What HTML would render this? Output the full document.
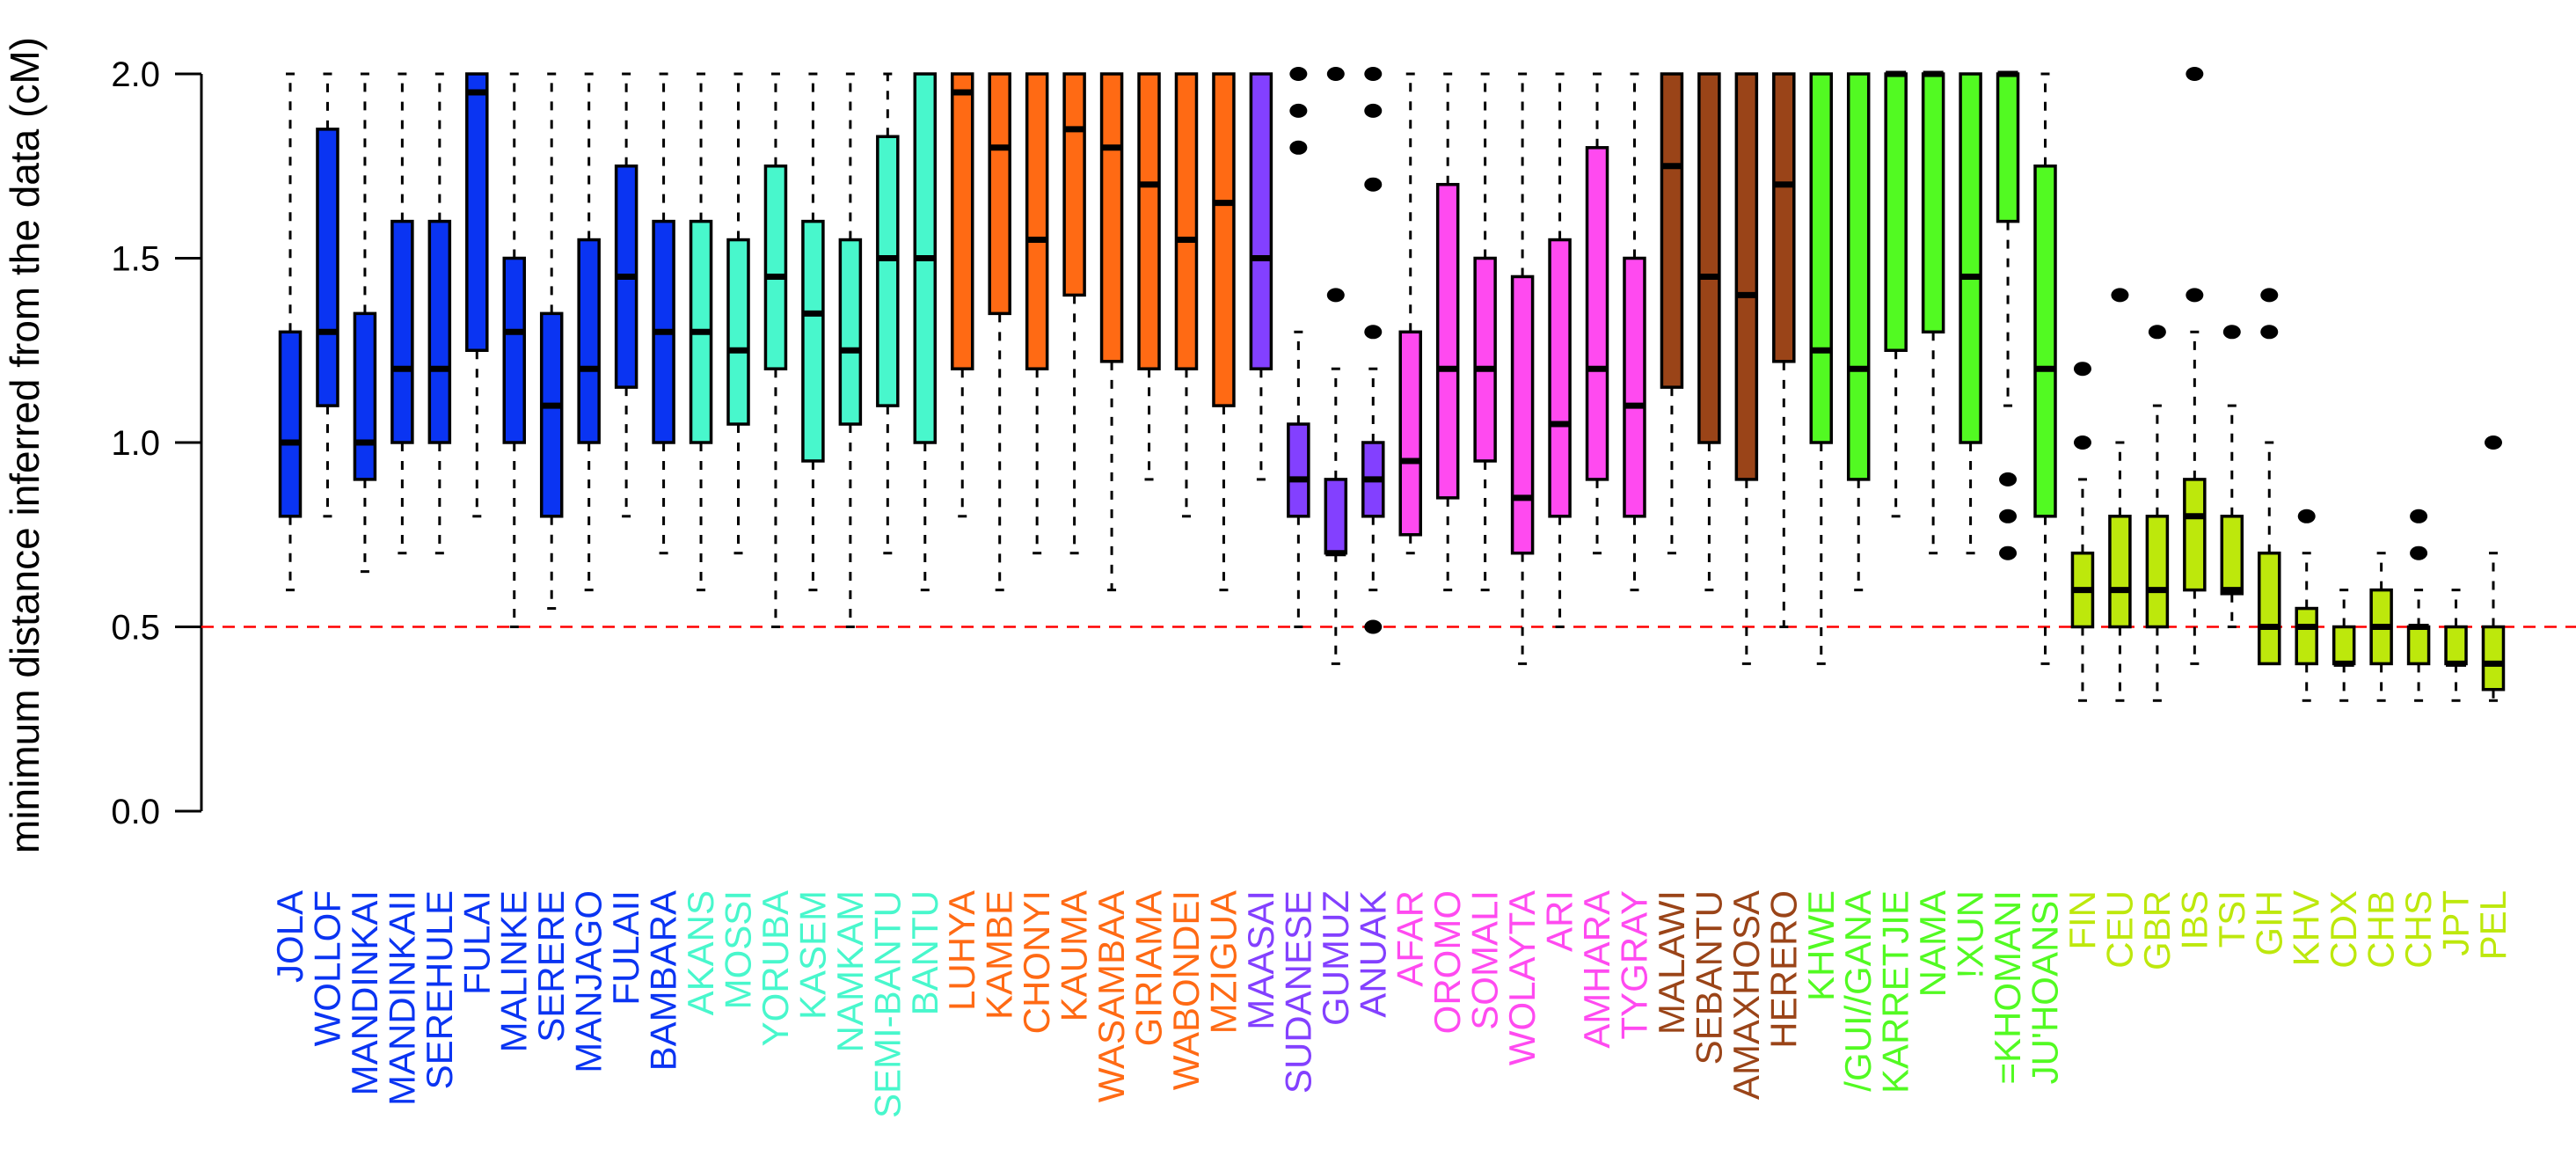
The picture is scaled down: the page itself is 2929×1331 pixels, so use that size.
<!DOCTYPE html>
<html><head><meta charset="utf-8"><style>
html,body{margin:0;padding:0;background:#fff;}
svg{display:block;font-family:"Liberation Sans",Arial,sans-serif;}
</style></head>
<body>
<svg id="chart" width="2929" height="1331" viewBox="0 0 2929 1331" xmlns="http://www.w3.org/2000/svg">
<text transform="translate(44,506) rotate(-90)" text-anchor="middle" font-size="46" fill="#000">minimum distance inferred from the data (cM)</text>
</svg>
<script>
const categories=["JOLA","WOLLOF","MANDINKAI","MANDINKAII","SEREHULE","FULAI","MALINKE","SERERE","MANJAGO","FULAII","BAMBARA","AKANS","MOSSI","YORUBA","KASEM","NAMKAM","SEMI-BANTU","BANTU","LUHYA","KAMBE","CHONYI","KAUMA","WASAMBAA","GIRIAMA","WABONDEI","MZIGUA","MAASAI","SUDANESE","GUMUZ","ANUAK","AFAR","OROMO","SOMALI","WOLAYTA","ARI","AMHARA","TYGRAY","MALAWI","SEBANTU","AMAXHOSA","HERERO","KHWE","/GUI//GANA","KARRETJIE","NAMA","!XUN","=KHOMANI","JU'HOANSI","FIN","CEU","GBR","IBS","TSI","GIH","KHV","CDX","CHB","CHS","JPT","PEL"];
const groups=[0,0,0,0,0,0,0,0,0,0,0,1,1,1,1,1,1,1,2,2,2,2,2,2,2,2,3,3,3,3,4,4,4,4,4,4,4,5,5,5,5,6,6,6,6,6,6,6,7,7,7,7,7,7,7,7,7,7,7,7];
const groupColors=["#0a34f2","#48f7cc","#ff6a14","#8340ff","#ff4af0","#9a4418","#52fa22","#bde80c"];
const whiskerLow=[0.6,0.8,0.65,0.7,0.7,0.8,0.5,0.55,0.6,0.8,0.7,0.6,0.7,0.5,0.6,0.5,0.7,0.6,0.8,0.6,0.7,0.7,0.6,0.9,0.8,0.6,0.9,0.5,0.4,0.6,0.7,0.6,0.6,0.4,0.5,0.7,0.6,0.7,0.6,0.4,0.5,0.4,0.6,0.8,0.7,0.7,1.1,0.4,0.3,0.3,0.3,0.4,0.5,0.4,0.3,0.3,0.3,0.3,0.3,0.3];
const q1=[0.8,1.1,0.9,1.0,1.0,1.25,1.0,0.8,1.0,1.15,1.0,1.0,1.05,1.2,0.95,1.05,1.1,1.0,1.2,1.35,1.2,1.4,1.22,1.2,1.2,1.1,1.2,0.8,0.7,0.8,0.75,0.85,0.95,0.7,0.8,0.9,0.8,1.15,1.0,0.9,1.22,1.0,0.9,1.25,1.3,1.0,1.6,0.8,0.5,0.5,0.5,0.6,0.59,0.4,0.4,0.4,0.4,0.4,0.4,0.33];
const medians=[1.0,1.3,1.0,1.2,1.2,1.95,1.3,1.1,1.2,1.45,1.3,1.3,1.25,1.45,1.35,1.25,1.5,1.5,1.95,1.8,1.55,1.85,1.8,1.7,1.55,1.65,1.5,0.9,0.7,0.9,0.95,1.2,1.2,0.85,1.05,1.2,1.1,1.75,1.45,1.4,1.7,1.25,1.2,2.0,2.0,1.45,2.0,1.2,0.6,0.6,0.6,0.8,0.6,0.5,0.5,0.4,0.5,0.5,0.4,0.4];
const q3=[1.3,1.85,1.35,1.6,1.6,2.0,1.5,1.35,1.55,1.75,1.6,1.6,1.55,1.75,1.6,1.55,1.83,2.0,2.0,2.0,2.0,2.0,2.0,2.0,2.0,2.0,2.0,1.05,0.9,1.0,1.3,1.7,1.5,1.45,1.55,1.8,1.5,2.0,2.0,2.0,2.0,2.0,2.0,2.0,2.0,2.0,2.0,1.75,0.7,0.8,0.8,0.9,0.8,0.7,0.55,0.5,0.6,0.5,0.5,0.5];
const whiskerHigh=[2,2,2,2,2,2,2,2,2,2,2,2,2,2,2,2,2,2,2,2,2,2,2,2,2,2,2,1.3,1.2,1.2,2,2,2,2,2,2,2,2,2,2,2,2,2,2,2,2,2,2,0.9,1.0,1.1,1.3,1.1,1.0,0.7,0.6,0.7,0.6,0.6,0.7];
const outliers=[[],[],[],[],[],[],[],[],[],[],[],[],[],[],[],[],[],[],[],[],[],[],[],[],[],[],[],[1.8,1.9,2.0],[1.4,2.0],[0.5,1.3,1.7,1.9,2.0],[],[],[],[],[],[],[],[],[],[],[],[],[],[],[],[],[0.7,0.8,0.9],[],[1.0,1.2],[1.4],[1.3],[1.4,2.0],[1.3],[1.3,1.4],[0.8],[],[],[0.7,0.8],[],[1.0]];
const yTicks=[0,0.5,1,1.5,2];
const yTickLabels=["0.0","0.5","1.0","1.5","2.0"];

const NS="http://www.w3.org/2000/svg";
const svg=document.getElementById('chart');
const y0=922,y2=84;
function yScale(v){return y0-(y0-y2)*v/2;}
function xScale(i){return 330+i*(2835-330)/(categories.length-1);}
function mk(tag,attrs,parent){const e=document.createElementNS(NS,tag);for(const k in attrs)e.setAttribute(k,attrs[k]);(parent||svg).appendChild(e);return e;}

const ax=mk('g',{});


mk('line',{x1:229,x2:229,y1:yScale(0),y2:yScale(2),stroke:'#000','stroke-width':3},ax);
yTicks.forEach((t,i)=>{
  mk('line',{x1:199,x2:229,y1:yScale(t),y2:yScale(t),stroke:'#000','stroke-width':3},ax);
  const tx=mk('text',{x:182,y:yScale(t)+14,'text-anchor':'end','font-size':40,fill:'#000'},ax);
  
  
  tx.textContent=yTickLabels[i];
});
const ref=mk('line',{x1:229,x2:2929,y1:yScale(0.5),y2:yScale(0.5),stroke:'#ff0000','stroke-width':2.5,'stroke-dasharray':'14,10'});



const bw=23;
categories.forEach((c,i)=>{
  const x=xScale(i),col=groupColors[groups[i]];
  const g=mk('g',{});
  
  
  if(whiskerHigh[i]>q3[i]){
    mk('line',{x1:x,x2:x,y1:yScale(q3[i]),y2:yScale(whiskerHigh[i]),stroke:'#000','stroke-width':3,'stroke-dasharray':'10,11'},g);
  }
  mk('line',{x1:x-5,x2:x+5,y1:yScale(whiskerHigh[i]),y2:yScale(whiskerHigh[i]),stroke:'#000','stroke-width':3},g);
  if(whiskerLow[i]<q1[i]){
    mk('line',{x1:x,x2:x,y1:yScale(q1[i]),y2:yScale(whiskerLow[i]),stroke:'#000','stroke-width':3,'stroke-dasharray':'10,11'},g);
  }
  mk('line',{x1:x-5,x2:x+5,y1:yScale(whiskerLow[i]),y2:yScale(whiskerLow[i]),stroke:'#000','stroke-width':3},g);
  mk('rect',{x:x-bw/2,y:yScale(q3[i]),width:bw,height:Math.max(1,yScale(q1[i])-yScale(q3[i])),fill:col,stroke:'#000','stroke-width':3.5},g);
  mk('line',{x1:x-bw/2,x2:x+bw/2,y1:yScale(medians[i]),y2:yScale(medians[i]),stroke:'#000','stroke-width':7},g);
  outliers[i].forEach(v=>{
    const o=mk('ellipse',{cx:x,cy:yScale(v),rx:10,ry:8,fill:'#000'},g);
    
    
  });
  const t=mk('text',{transform:`translate(${x+14},1012) rotate(-90)`,'text-anchor':'end','font-size':42,fill:col});
  
  
  t.textContent=c;
});
</script>
</body></html>
